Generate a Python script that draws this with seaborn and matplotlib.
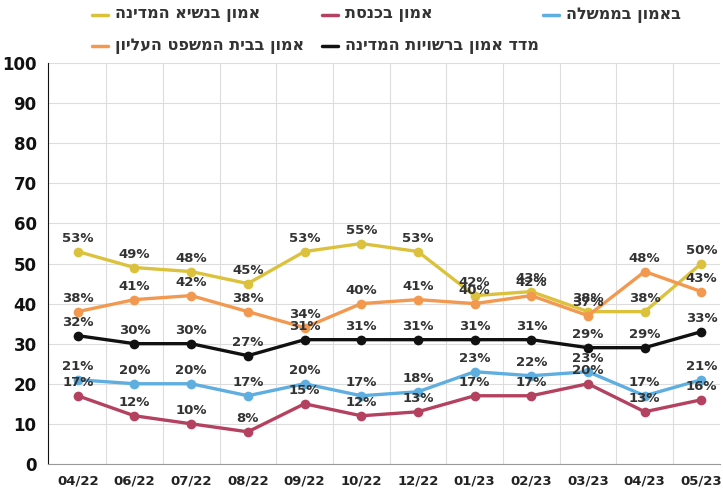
import pandas as pd
import matplotlib.pyplot as plt
import seaborn as sns
from matplotlib.lines import Line2D
from matplotlib.ticker import MultipleLocator

months = ['04/22', '06/22', '07/22', '08/22', '09/22', '10/22',
          '12/22', '01/23', '02/23', '03/23', '04/23', '05/23']

president = [53, 49, 48, 45, 53, 55, 53, 42, 43, 38, 38, 50]
supreme_court = [38, 41, 42, 38, 34, 40, 41, 40, 42, 37, 48, 43]
trust_index = [32, 30, 30, 27, 31, 31, 31, 31, 31, 29, 29, 33]
government = [21, 20, 20, 17, 20, 17, 18, 23, 22, 23, 17, 21]
knesset = [17, 12, 10, 8, 15, 12, 13, 17, 17, 20, 13, 16]

series_names = ['אמון בנשיא המדינה', 'אמון בבית המשפט העליון', 'מדד אמון ברשויות המדינה',
                'באמון בממשלה', 'אמון בכנסת']
series_values = [president, supreme_court, trust_index, government, knesset]
colors = ['#DCC23C', '#F3984F', '#111111', '#5FAEE0', '#B4415F']

sns.set_style('white')
plt.rcParams['font.family'] = ['DejaVu Sans']

fig = plt.figure(figsize=(7.23, 4.94), dpi=100)
ax = fig.add_axes([0.066, 0.061, 0.93, 0.811])

x = list(range(len(months)))
for name, vals, col in zip(series_names, series_values, colors):
    df = pd.DataFrame({'x': x, 'y': vals})
    sns.lineplot(data=df, x='x', y='y', ax=ax, color=col, linewidth=2.4,
                 marker='o', markersize=7, markeredgewidth=0, sort=False,
                 legend=False)
    for xi, yi in zip(x, vals):
        ax.annotate(f'{yi}%', (xi, yi), xytext=(0, 5), textcoords='offset points',
                    ha='center', va='bottom', fontsize=9.5, fontweight='bold',
                    color='#333333', zorder=5)

ax.set_xlim(-0.53, 11.33)
ax.set_ylim(0, 100)
ax.yaxis.set_major_locator(MultipleLocator(10))
ax.set_xticks(x)
ax.set_xticklabels(months, fontsize=9.5, fontweight='bold', color='#222222')
ax.set_xticks([i + 0.5 for i in x[:-1]], minor=True)
ax.grid(False)
ax.grid(axis='y', which='major', color='#dddddd', linewidth=0.8)
ax.grid(axis='x', which='minor', color='#dddddd', linewidth=0.8)
ax.tick_params(axis='x', which='major', length=4, color='#888888', pad=4)
ax.tick_params(axis='x', which='minor', length=0)
ax.tick_params(axis='y', length=0, pad=8)
for lab in ax.get_yticklabels():
    lab.set_fontsize(12)
    lab.set_fontweight('bold')
    lab.set_color('#111111')
ax.set_xlabel('')
ax.set_ylabel('')
ax.spines['top'].set_visible(False)
ax.spines['right'].set_visible(False)
ax.spines['left'].set_color('#111111')
ax.spines['bottom'].set_color('#999999')

# legend: short line to the left of each (visually reversed) Hebrew label
W, H = 723.0, 494.0
legend_items = [  # (series index, line left px, row y px)
    (0, 92, 15), (4, 322, 15), (3, 543, 15),
    (1, 92, 46), (2, 322, 46),
]
for i, lx, ly in legend_items:
    fy = 1 - ly / H
    fig.add_artist(Line2D([lx / W, (lx + 16) / W], [fy, fy], color=colors[i],
                          linewidth=2.5, transform=fig.transFigure))
    fig.text((lx + 23) / W, fy, series_names[i][::-1], ha='left', va='center',
             fontsize=11.5, fontweight='bold', color='#333333')

fig.savefig('out.png', dpi=100)
